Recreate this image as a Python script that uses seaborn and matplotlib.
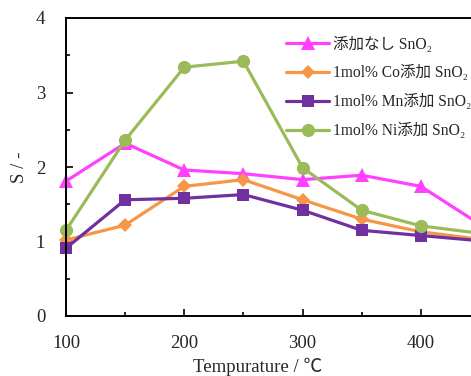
import matplotlib
matplotlib.use("Agg")
import matplotlib.pyplot as plt
from matplotlib.ticker import MultipleLocator
import pandas as pd
import seaborn as sns

temps = [100, 150, 200, 250, 300, 350, 400, 450]
s_none = [1.81, 2.32, 1.96, 1.91, 1.83, 1.89, 1.74, 1.23]
s_co = [1.02, 1.22, 1.74, 1.83, 1.56, 1.30, 1.13, 1.03]
s_mn = [0.91, 1.56, 1.58, 1.63, 1.42, 1.15, 1.08, 1.01]
s_ni = [1.15, 2.36, 3.34, 3.42, 1.99, 1.42, 1.21, 1.11]

labels = ["添加なし SnO₂", "1mol% Co添加 SnO₂", "1mol% Mn添加 SnO₂", "1mol% Ni添加 SnO₂"]
colors = ["#FF40FF", "#F79646", "#7030A0", "#9BBB59"]
markers = ["^", "D", "s", "o"]
msizes = [10.5, 7.5, 9, 9.5]

sns.set_style("ticks")
fam = ["Liberation Serif", "Noto Sans CJK JP", "DejaVu Sans"]
plt.rcParams["font.family"] = fam

fig = plt.figure(figsize=(4.71, 3.76), dpi=100)
ax = fig.add_axes([66 / 471, 60 / 376, 414 / 471, 298 / 376])

for lab, vals, c, m, ms in zip(labels, [s_none, s_co, s_mn, s_ni], colors, markers, msizes):
    df = pd.DataFrame({"T": temps, "S": vals})
    sns.lineplot(data=df, x="T", y="S", ax=ax, color=c, marker=m, markersize=ms,
                 markeredgewidth=0, linewidth=2.3, label=lab, clip_on=False)

ax.set_xlim(100, 450)
ax.set_ylim(0, 4)
ax.xaxis.set_major_locator(MultipleLocator(100))
ax.xaxis.set_minor_locator(MultipleLocator(50))
ax.yaxis.set_major_locator(MultipleLocator(1))
ax.yaxis.set_minor_locator(MultipleLocator(0.5))
ax.tick_params(which="both", direction="in", width=1.2, color="black")
ax.tick_params(which="major", length=5)
ax.tick_params(which="minor", length=3)
ax.tick_params(axis="x", which="major", pad=14, labelsize=13.5)
ax.tick_params(axis="y", which="major", pad=15, labelsize=13.5)
for sp in ax.spines.values():
    sp.set_linewidth(1.4)
    sp.set_color("black")

ax.set_xlabel("Tempurature / ℃", fontsize=13.5)
ax.set_ylabel("S / -", fontsize=13.5)
ax.xaxis.set_label_coords(0.464, -0.140)
ax.yaxis.set_label_coords(-0.092, 0.5)

leg = ax.legend(loc="upper left", bbox_to_anchor=(0.531, 0.938), frameon=False,
                fontsize=11.2, handlelength=2.8, handletextpad=0.2, labelspacing=0.82,
                borderpad=0, borderaxespad=0)

fig.savefig("out.png", dpi=100)
